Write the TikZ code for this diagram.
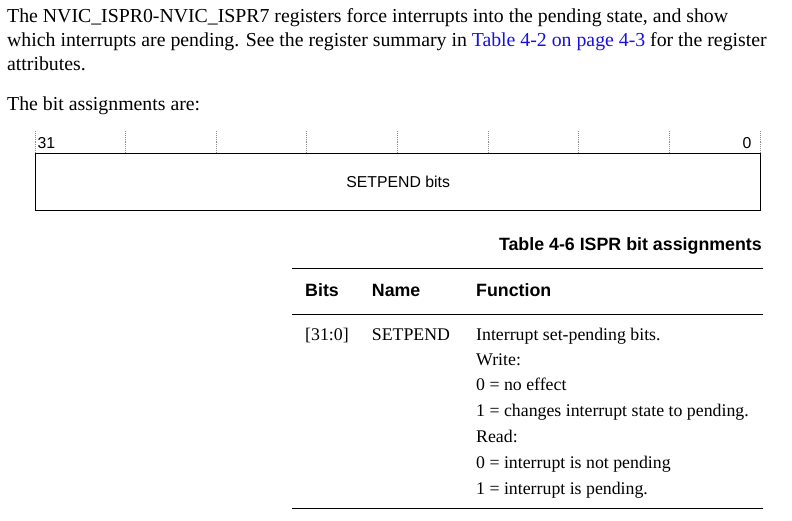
\documentclass[tikz,border=0pt]{standalone}
\usepackage{fontspec}
\setmainfont{Liberation Serif}
\setsansfont{Liberation Sans}
\usetikzlibrary{positioning}
\definecolor{linkblue}{RGB}{24,16,224}
\tikzset{
  para/.style={anchor=base west, inner sep=0pt, font=\fontsize{19.8}{22}\selectfont},
  cell/.style={anchor=base west, inner sep=0pt, font=\fontsize{17.8}{20}\selectfont},
  headcell/.style={anchor=base west, inner sep=0pt, font=\sffamily\bfseries\fontsize{17.8}{20}\selectfont},
  bitno/.style={inner sep=0pt, font=\sffamily\fontsize{15.8}{18}\selectfont},
  regbox/.style={draw, line width=1.3pt, inner sep=0pt, minimum width=725, minimum height=57,
    font=\sffamily\fontsize{15.8}{18}\selectfont},
  bittick/.style={densely dotted, black!45, line width=0.9pt},
  tablerule/.style={line width=1pt}
}
\begin{document}
\begin{tikzpicture}[x=1pt,y=-1pt]
  \useasboundingbox (0,0) rectangle (792,520);
  % text above the register
  \node[para] (p1) at (7,22) {The NVIC\_ISPR0-NVIC\_ISPR7 registers force interrupts into the pending state, and show};
  \node[para] (p2) at (7,46) {which interrupts are pending. See the register summary in \textcolor{linkblue}{Table 4-2 on page 4-3} for the register};
  \node[para] (p3) at (7,70.5) {attributes.};
  \node[para] (p4) at (7,110) {The bit assignments are:};
  % register
  \foreach \i in {0,...,8}
    \coordinate (t\i) at (35+90.625*\i,131);
  \foreach \i in {0,...,8}
    \draw[bittick] (t\i) -- ++(0,22);
  \node[regbox, anchor=north west] (reg) at (35,153) {SETPEND bits};
  \node[bitno, anchor=base west] (b31) at (37.3,148) {31};
  \node[bitno, anchor=base east] (b0) at (751.7,148) {0};
  % table
  \node[headcell, anchor=base east] (title) at (762,250.7) {Table 4-6 ISPR bit assignments};
  \coordinate (r1l) at (292,268.7);
  \coordinate (r1r) at (763,268.7);
  \coordinate (r2l) at (292,314);
  \coordinate (r2r) at (763,314);
  \coordinate (r3l) at (292,508.3);
  \coordinate (r3r) at (763,508.3);
  \begin{scope}[tablerule]
    \draw (r1l) -- (r1r);
    \draw (r2l) -- (r2r);
    \draw (r3l) -- (r3r);
  \end{scope}
  \node[headcell] (hbits) at (305,296.7) {Bits};
  \node[headcell] (hname) at (371.7,296.7) {Name};
  \node[headcell] (hfunc) at (476,296.7) {Function};
  \node[cell] (bits) at (305,340) {[31:0]};
  \node[cell] (name) at (371.7,340) {SETPEND};
  \node[cell] (f1) at (476,340) {Interrupt set-pending bits.};
  \node[cell] (f2) at (476,365) {Write:};
  \node[cell] (f3) at (476,390.7) {0 = no effect};
  \node[cell] (f4) at (476,416.7) {1 = changes interrupt state to pending.};
  \node[cell] (f5) at (476,442.7) {Read:};
  \node[cell] (f6) at (476,468.3) {0 = interrupt is not pending};
  \node[cell] (f7) at (476,494) {1 = interrupt is pending.};
\end{tikzpicture}
\end{document}
